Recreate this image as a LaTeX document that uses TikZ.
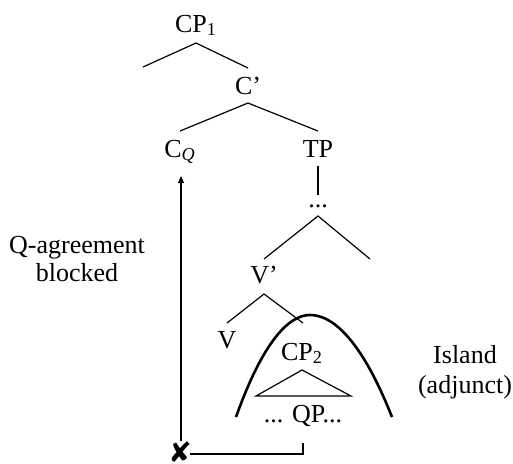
\documentclass[tikz,border=0pt]{standalone}
\usepackage{fontspec}
\setmainfont{Liberation Serif}
\newfontfamily\symfont{DejaVu Sans}
\usetikzlibrary{arrows.meta}
\tikzset{
  cat/.style={anchor=base, inner sep=0pt, font=\fontsize{13}{15}\selectfont},
  branch/.style={line width=0.6pt},
}
\begin{document}
\begin{tikzpicture}[x=0.5pt, y=-0.5pt]
    \useasboundingbox (0,0) rectangle (513,463);
    % 範疇ラベル
    \node[cat] (cp1) at (196,32) {CP\textsubscript{1}};
    \node[cat] (cbar) at (248,94) {C'};
    \node[cat] (cq) at (180,157) {C\textsubscript{\itshape Q}};
    \node[cat] (tp) at (318,157) {TP};
    \node[cat] (dots) at (318,207) {...};
    \node[cat] (vbar) at (264,283) {V'};
    \node[cat] (v) at (227,348) {V};
    \node[cat] (cp2) at (302,360) {CP\textsubscript{2}};
    \node[cat] (qp) at (303,422) {... QP...};
    \node[cat, align=center] (agree) at (77,281) {Q-agreement\\[-1pt]blocked};
    \node[cat, align=center] (island) at (465,393) {Island\\(adjunct)};
    \node[inner sep=0pt, font=\symfont\fontsize{14}{14}\selectfont] (xmark) at (180,452) {✘};
    % 枝
    \coordinate (spec) at (143,67);
    \coordinate (dotsr) at (370,259);
    \coordinate (vbarr) at (303,323);
    \draw[branch] (spec) -- ([yshift=-5.5pt]cp1.base) -- ([yshift=13pt]cbar.base);
    \draw[branch] ([yshift=13pt]cq.base) -- ([yshift=-4.5pt]cbar.base) -- ([yshift=13pt]tp.base);
    \draw[branch] ([yshift=-4.5pt]tp.base) -- ([yshift=6pt]dots.base);
    \draw[branch] ([yshift=12pt]vbar.base) -- ([yshift=-4.5pt]dots.base) -- (dotsr);
    \draw[branch] ([yshift=12.5pt]v.base) -- ([yshift=-5.5pt]vbar.base) -- (vbarr);
    \draw[branch] ([yshift=-5pt]cp2.base) -- ([xshift=-23.5pt,yshift=13pt]qp.base)
      -- ([xshift=24pt,yshift=13pt]qp.base) -- cycle;
    % 島
    \draw[line width=1.3pt] (236,417) parabola bend (310,315) (392,417);
    % 一致
    \draw[branch] ([xshift=-1pt,yshift=-1pt]xmark.east) -| ([yshift=-10.5pt]qp.base);
    \draw[branch, -{Triangle[length=3.5pt,width=3pt]}] ([xshift=0.5pt]xmark.north) -- ([xshift=0.5pt,yshift=-9.5pt]cq.base);
\end{tikzpicture}
\end{document}
